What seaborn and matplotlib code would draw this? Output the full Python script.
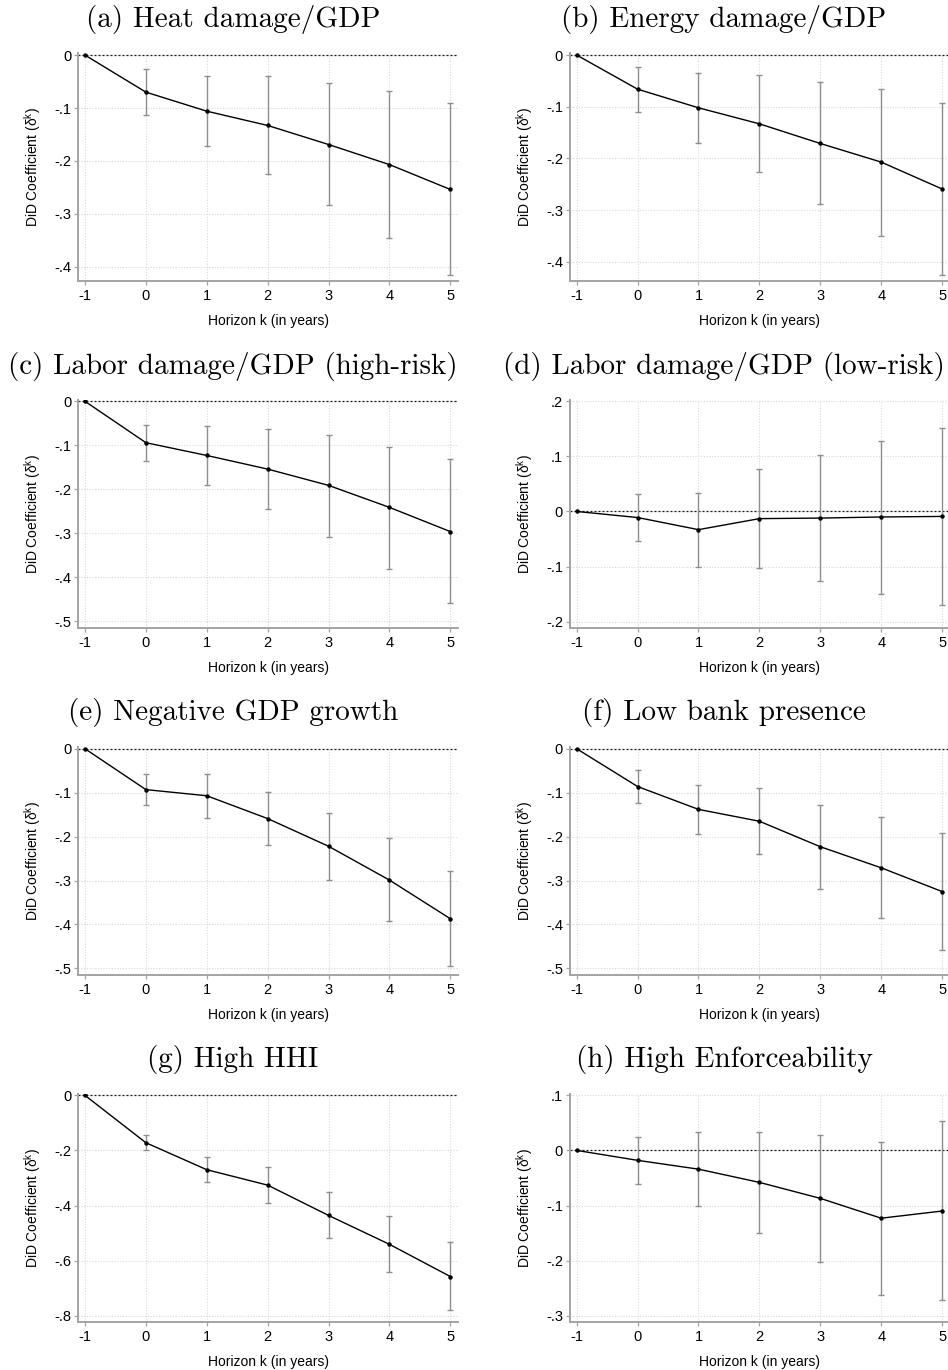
import matplotlib
matplotlib.use("Agg")
import matplotlib.pyplot as plt
import numpy as np
import pandas as pd
import seaborn as sns

# ---- event-study estimates: horizon k, point estimate, 95% CI (k = 0..5) ----
horizon = [-1, 0, 1, 2, 3, 4, 5]
ci_horizon = [0, 1, 2, 3, 4, 5]

heat_coef = [0, -0.070, -0.106, -0.133, -0.169, -0.207, -0.254]
heat_lo = [-0.113, -0.172, -0.224, -0.284, -0.345, -0.416]
heat_hi = [-0.027, -0.039, -0.040, -0.052, -0.068, -0.091]

energy_coef = [0, -0.066, -0.102, -0.133, -0.171, -0.207, -0.259]
energy_lo = [-0.110, -0.171, -0.227, -0.289, -0.349, -0.426]
energy_hi = [-0.023, -0.034, -0.039, -0.052, -0.065, -0.093]

labor_high_coef = [0, -0.094, -0.123, -0.154, -0.191, -0.241, -0.296]
labor_high_lo = [-0.135, -0.190, -0.244, -0.308, -0.380, -0.459]
labor_high_hi = [-0.053, -0.057, -0.063, -0.076, -0.103, -0.131]

labor_low_coef = [0, -0.011, -0.033, -0.013, -0.012, -0.010, -0.009]
labor_low_lo = [-0.054, -0.100, -0.102, -0.126, -0.149, -0.170]
labor_low_hi = [0.032, 0.033, 0.077, 0.103, 0.128, 0.151]

neg_gdp_coef = [0, -0.093, -0.107, -0.159, -0.222, -0.299, -0.387]
neg_gdp_lo = [-0.129, -0.158, -0.220, -0.298, -0.393, -0.494]
neg_gdp_hi = [-0.057, -0.057, -0.098, -0.147, -0.204, -0.279]

low_bank_coef = [0, -0.086, -0.138, -0.165, -0.223, -0.271, -0.325]
low_bank_lo = [-0.123, -0.194, -0.240, -0.319, -0.386, -0.459]
low_bank_hi = [-0.049, -0.082, -0.089, -0.128, -0.155, -0.191]

hhi_coef = [0, -0.172, -0.270, -0.326, -0.436, -0.541, -0.658]
hhi_lo = [-0.200, -0.315, -0.390, -0.519, -0.642, -0.781]
hhi_hi = [-0.143, -0.225, -0.260, -0.352, -0.439, -0.534]

enforce_coef = [0, -0.018, -0.034, -0.058, -0.087, -0.123, -0.110]
enforce_lo = [-0.061, -0.100, -0.149, -0.203, -0.263, -0.272]
enforce_hi = [0.025, 0.033, 0.033, 0.028, 0.016, 0.053]

titles = [
    "(a) Heat damage/GDP",
    "(b) Energy damage/GDP",
    "(c) Labor damage/GDP (high-risk)",
    "(d) Labor damage/GDP (low-risk)",
    "(e) Negative GDP growth",
    "(f) Low bank presence",
    "(g) High HHI",
    "(h) High Enforceability",
]

yticks = [
    [0, -0.1, -0.2, -0.3, -0.4],
    [0, -0.1, -0.2, -0.3, -0.4],
    [0, -0.1, -0.2, -0.3, -0.4, -0.5],
    [0.2, 0.1, 0, -0.1, -0.2],
    [0, -0.1, -0.2, -0.3, -0.4, -0.5],
    [0, -0.1, -0.2, -0.3, -0.4, -0.5],
    [0, -0.2, -0.4, -0.6, -0.8],
    [0.1, 0, -0.1, -0.2, -0.3],
]

ylims = [
    (-0.427, 0.004),
    (-0.437, 0.004),
    (-0.515, 0.003),
    (-0.2115, 0.2023),
    (-0.515, 0.004),
    (-0.515, 0.004),
    (-0.823, 0.005),
    (-0.3114, 0.1024),
]

series = [
    (heat_coef, heat_lo, heat_hi),
    (energy_coef, energy_lo, energy_hi),
    (labor_high_coef, labor_high_lo, labor_high_hi),
    (labor_low_coef, labor_low_lo, labor_low_hi),
    (neg_gdp_coef, neg_gdp_lo, neg_gdp_hi),
    (low_bank_coef, low_bank_lo, low_bank_hi),
    (hhi_coef, hhi_lo, hhi_hi),
    (enforce_coef, enforce_lo, enforce_hi),
]


def stata_label(v):
    s = "%g" % v
    if s.startswith("-0."):
        s = "-" + s[2:]
    elif s.startswith("0."):
        s = s[1:]
    return s


sns.set_theme(style="white")
plt.rcParams["font.family"] = ["Liberation Sans", "DejaVu Sans"]
plt.rcParams["mathtext.fontset"] = "custom"
plt.rcParams["mathtext.rm"] = "Liberation Sans"
plt.rcParams["mathtext.it"] = "Liberation Sans"

W, H = 948, 1370
fig = plt.figure(figsize=(W / 100, H / 100), dpi=100)
fig.patch.set_facecolor("white")


def axes_px(left, top, w, h):
    return fig.add_axes([left / W, 1 - (top + h) / H, w / W, h / H])


XLIM = (-1.11, 5.12)
AX_W = (XLIM[1] - XLIM[0]) * 60.9
AX_H = 228
col_left = [78.3, 570.0]
title_cx = [233, 724]
SPINE = "#a3a3a3"
GRID = "#d8d8d8"
CI_COLOR = "#8e8e8e"

for i, (title, (coef, lo, hi)) in enumerate(zip(titles, series)):
    r, c = divmod(i, 2)
    top = 53 + 347 * r
    ax = axes_px(col_left[c], top, AX_W, AX_H)
    ax.set_facecolor("white")

    coef_arr = np.array(coef)
    ci_coef = coef_arr[1:]
    yerr = [ci_coef - np.array(lo), np.array(hi) - ci_coef]

    ax.axhline(0, color="#1a1a1a", lw=0.9, ls=(0, (1.6, 1.6)), zorder=2)
    ax.errorbar(ci_horizon, ci_coef, yerr=yerr, fmt="none", ecolor=CI_COLOR,
                elinewidth=1.0, capsize=2.2, capthick=1.0, zorder=3)
    df = pd.DataFrame({"k": horizon, "coef": coef})
    sns.lineplot(data=df, x="k", y="coef", ax=ax, color="black", lw=1.0,
                 marker="o", markersize=3.2, markeredgewidth=0,
                 markerfacecolor="black", zorder=4)

    ax.set_xlim(*XLIM)
    ax.set_ylim(*ylims[i])
    ax.set_xticks(horizon)
    ax.set_xticklabels([str(k) for k in horizon])
    ax.set_yticks(yticks[i])
    ax.set_yticklabels([stata_label(v) for v in yticks[i]])

    ax.grid(True, color=GRID, ls=(0, (1, 1.5)), lw=0.8)
    ax.set_axisbelow(True)
    for s in ("top", "right"):
        ax.spines[s].set_visible(False)
    for s in ("left", "bottom"):
        ax.spines[s].set_color(SPINE)
        ax.spines[s].set_linewidth(1.4)
    ax.tick_params(axis="both", which="major", direction="out", length=3,
                   width=0.9, color=SPINE, labelsize=10.5, labelcolor="black",
                   left=True, bottom=True)
    ax.tick_params(axis="y", pad=2)
    ax.tick_params(axis="x", pad=3)

    ax.set_xlabel("Horizon k (in years)", fontsize=10, labelpad=8, color="black")
    ax.set_ylabel(r"DiD Coefficient ($\mathregular{\delta^k}$)", fontsize=10,
                  labelpad=8, color="black")

    fig.text(title_cx[c] / W, 1 - (27 + 346.7 * r) / H, title,
             fontfamily="cmr10", fontsize=21, ha="center", va="baseline",
             color="black")

fig.savefig("out.png", dpi=100, facecolor="white")
